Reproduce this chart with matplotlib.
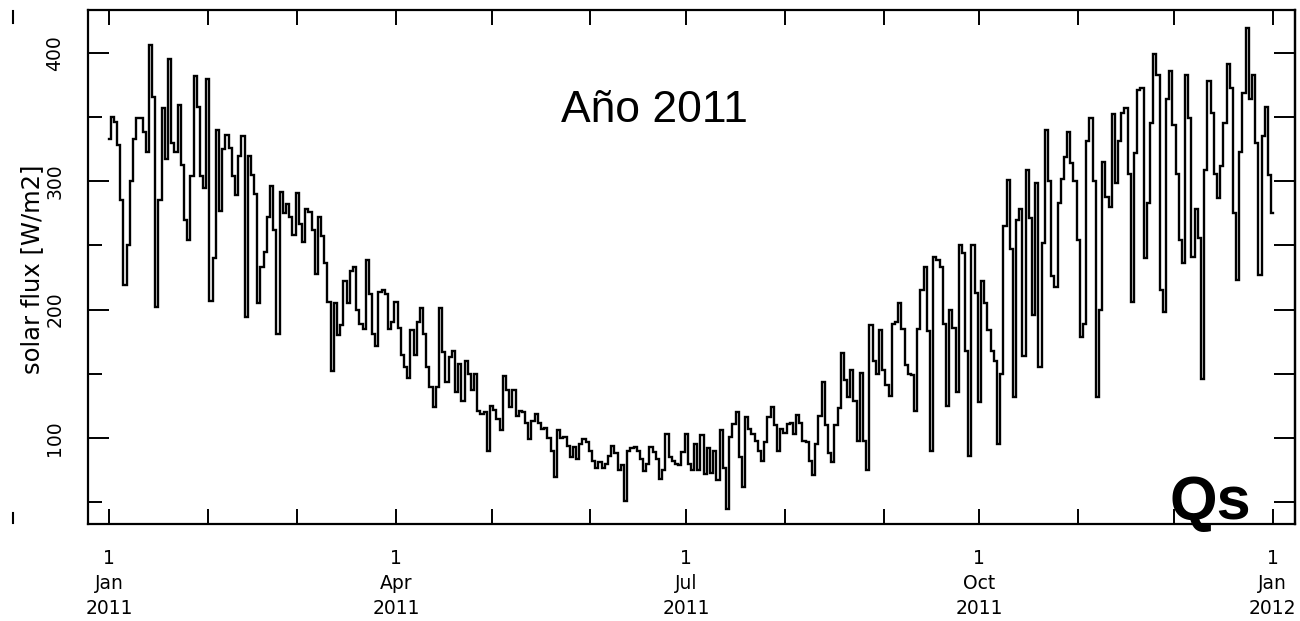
import numpy as np
import pandas as pd
import matplotlib
matplotlib.use('Agg')
import matplotlib.pyplot as plt
import matplotlib.dates as mdates
from matplotlib.ticker import MultipleLocator, FixedLocator, FuncFormatter
from matplotlib.lines import Line2D

# flujo solar diario 2011 (W/m2), leido a ojo del grafico original
flux = [
    333, 350, 346, 328, 285, 219, 250, 300, 333, 349,
    349, 338, 323, 406, 366, 202, 285, 357, 317, 395,
    330, 323, 359, 313, 270, 254, 304, 382, 358, 304,
    295, 380, 207, 240, 340, 277, 325, 336, 326, 304,
    289, 320, 335, 194, 320, 305, 290, 205, 233, 245,
    272, 296, 262, 181, 292, 275, 282, 272, 258, 291,
    267, 253, 278, 276, 262, 228, 272, 257, 236, 206,
    152, 205, 180, 188, 222, 205, 230, 233, 200, 189,
    185, 239, 212, 181, 172, 214, 215, 212, 185, 190,
    206, 186, 165, 155, 147, 184, 165, 190, 201, 181,
    155, 140, 124, 140, 201, 167, 144, 163, 168, 136,
    158, 129, 160, 150, 137, 150, 121, 119, 120, 90,
    125, 122, 115, 106, 148, 137, 124, 137, 117, 121,
    120, 112, 99, 113, 119, 112, 107, 108, 100, 90,
    70, 106, 100, 101, 94, 85, 93, 84, 95, 99,
    97, 90, 82, 77, 81, 77, 80, 86, 94, 88,
    75, 79, 51, 90, 92, 93, 90, 84, 74, 80,
    93, 89, 84, 68, 75, 103, 85, 82, 80, 79,
    89, 103, 80, 75, 95, 75, 102, 72, 92, 73,
    90, 67, 106, 77, 45, 101, 111, 120, 85, 62,
    116, 107, 103, 98, 90, 82, 97, 116, 124, 110,
    90, 107, 104, 111, 112, 103, 118, 112, 98, 97,
    82, 71, 95, 117, 144, 110, 88, 81, 110, 123,
    166, 145, 132, 153, 129, 98, 151, 98, 75, 188,
    160, 150, 184, 153, 141, 133, 189, 190, 205, 185,
    157, 150, 149, 121, 185, 215, 233, 183, 90, 241,
    239, 233, 189, 125, 200, 186, 136, 250, 244, 168,
    86, 250, 213, 128, 222, 205, 184, 168, 160, 95,
    150, 265, 301, 247, 132, 270, 278, 164, 309, 271,
    196, 299, 155, 252, 340, 300, 226, 218, 283, 302,
    319, 338, 314, 300, 254, 179, 189, 331, 349, 300,
    132, 200, 315, 288, 280, 352, 299, 331, 353, 357,
    306, 206, 322, 371, 373, 240, 283, 345, 399, 383,
    215, 198, 364, 386, 344, 306, 254, 236, 383, 349,
    241, 278, 256, 146, 309, 378, 353, 306, 287, 312,
    345, 391, 373, 275, 223, 323, 369, 419, 364, 383,
    330, 227, 335, 358, 305, 275,
]
start = '2011-01-01'
title_txt = 'Año 2011'
tag_txt = 'Qs'
ylabel_txt = 'solar flux [W/m2]'

dates = pd.date_range(start, periods=len(flux), freq='D')

fig = plt.figure(figsize=(13, 6.21), dpi=100)
ax = fig.add_axes([0.0677, 0.1562, 0.9285, 0.8269])

# el original parece escalonado (pixelado), asi que steps-mid
ax.plot(dates, flux, color='black', lw=1.7, drawstyle='steps-mid',
        solid_joinstyle='miter')

t0 = pd.Timestamp(start)
ax.set_xlim(t0 - pd.Timedelta(days=6.6), t0 + pd.Timedelta(days=372))
ax.set_ylim(33, 433)

# ejes: meses como ticks menores, trimestres con etiqueta
ax.xaxis.set_major_locator(mdates.MonthLocator(bymonth=[1, 4, 7, 10]))
ax.xaxis.set_minor_locator(mdates.MonthLocator())

def fmt_date(x, pos):
    d = mdates.num2date(x)
    return f"{d.day}\n{d:%b}\n{d.year}"

ax.xaxis.set_major_formatter(FuncFormatter(fmt_date))
ax.yaxis.set_major_locator(FixedLocator([100, 200, 300, 400]))
ax.yaxis.set_minor_locator(MultipleLocator(50))

ax.tick_params(axis='x', which='both', direction='in', top=True, bottom=True,
               length=11, width=1.4, pad=18, labelsize=13.5)
ax.tick_params(axis='y', which='major', direction='in', left=True, right=False,
               length=15, width=1.4, pad=17, labelsize=13.5, labelrotation=90)
ax.tick_params(axis='y', which='minor', direction='in', left=True, right=False,
               length=10, width=1.4)
for lab in ax.get_xticklabels():
    lab.set_linespacing(1.4)
for lab in ax.get_yticklabels():
    lab.set_va('center')

sec = ax.secondary_yaxis('right')
sec.yaxis.set_major_locator(MultipleLocator(50))
sec.tick_params(direction='in', length=15, width=1.4, labelright=False)

for sp in list(ax.spines.values()) + list(sec.spines.values()):
    sp.set_linewidth(1.6)

ax.set_ylabel(ylabel_txt, fontsize=17.5)
ax.yaxis.set_label_coords(-0.036, 0.497)

ax.text(0.469, 0.782, title_txt, transform=ax.transAxes, ha='center',
        va='baseline', fontsize=32, family='Liberation Sans')
ax.text(0.8956, 0.010, tag_txt, transform=ax.transAxes, ha='left',
        va='baseline', fontsize=44, fontweight='bold', family='Liberation Sans')

# marcas sueltas en el borde izquierdo de la imagen original
for y0, y1 in [(11, 23), (513, 523)]:
    fig.add_artist(Line2D([13 / 1300, 13 / 1300], [1 - y0 / 621, 1 - y1 / 621],
                          transform=fig.transFigure, color='black', lw=1.5))

fig.savefig('out.png', dpi=100)
